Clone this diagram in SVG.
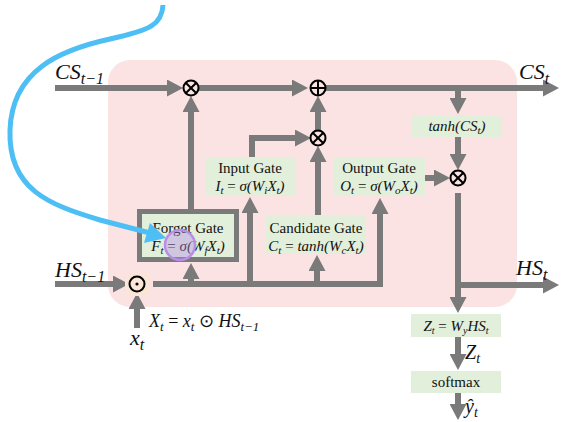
<svg xmlns="http://www.w3.org/2000/svg" width="561" height="422" viewBox="0 0 561 422">
<style>
.ln{fill:none;stroke:#7a7a7a;stroke-width:6;stroke-linejoin:miter}
.ar{marker-end:url(#ah)}
.box{fill:#e2efda}
.t{font-family:"Liberation Serif",serif;font-size:15px;fill:#111;text-anchor:middle}
.m{font-family:"Liberation Serif",serif;font-style:italic;fill:#111}
.mc{font-family:"Liberation Serif",serif;font-style:italic;font-size:15px;fill:#111;text-anchor:middle}
.op{fill:none;stroke:#000;stroke-width:2}
</style>
<defs>
<marker id="ah" viewBox="0 0 16 17" refX="2" refY="8.5" markerWidth="16" markerHeight="17" markerUnits="userSpaceOnUse" orient="auto">
<path d="M0,0 L16,8.5 L0,17 z" fill="#7a7a7a"/>
</marker>
</defs>
<rect id="cell" x="108" y="60" width="409" height="247" rx="22" fill="#fce3e3"/>

<g id="connectors">
<path class="ln ar" d="M55,88 H169"/>
<path class="ln ar" d="M199,88 H294"/>
<path class="ln ar" d="M326,88 H545"/>
<path class="ln ar" d="M458,88 V100"/>
<path class="ln ar" d="M458,137 V156"/>
<path class="ln ar" d="M425,178 H436"/>
<path class="ln ar" d="M458,193 V299"/>
<path class="ln ar" d="M458,285 H545"/>
<path class="ln ar" d="M458,337 V356"/>
<path class="ln ar" d="M458,393 V406"/>
<path class="ln ar" d="M55,284 H115"/>
<path class="ln ar" d="M137,328 V307"/>
<path class="ln ar" d="M153,284 H380 V212"/>
<path class="ln ar" d="M191,284 V277"/>
<path class="ln ar" d="M250,284 V211"/>
<path class="ln ar" d="M317,284 V269"/>
<path class="ln ar" d="M191,209 V110"/>
<path class="ln ar" d="M252,157 V138 H297"/>
<path class="ln ar" d="M318,130 V110"/>
<path class="ln ar" d="M318,215 V160"/>
</g>

<g id="mul1"><circle class="op" cx="191" cy="88" r="7.5"/><path class="op" d="M185.7,82.7 L196.3,93.3 M196.3,82.7 L185.7,93.3"/></g>
<g id="add1"><circle class="op" cx="318" cy="88" r="7.5"/><path class="op" d="M310.5,88 H325.5 M318,80.5 V95.5"/></g>
<g id="mul2"><circle class="op" cx="318" cy="138" r="7.5"/><path class="op" d="M312.7,132.7 L323.3,143.3 M323.3,132.7 L312.7,143.3"/></g>
<g id="mul3"><circle class="op" cx="458" cy="178" r="7.5"/><path class="op" d="M452.7,172.7 L463.3,183.3 M463.3,172.7 L452.7,183.3"/></g>
<g id="had"><rect x="125" y="273" width="24" height="23" fill="#fbe5d6"/><circle class="op" cx="137" cy="284" r="7.5"/><circle cx="137" cy="284" r="1.6" fill="#000"/></g>

<g id="tanh"><rect class="box" x="412" y="115" width="90" height="22"/>
<text class="mc" x="457" y="131">tanh(CS<tspan font-size="11" dy="3">t</tspan><tspan dy="-3">)</tspan></text></g>

<g id="output"><rect class="box" x="334" y="157" width="91" height="39"/>
<text class="t" x="379" y="173">Output Gate</text>
<text class="mc" x="379" y="191">O<tspan font-size="11" dy="3">t</tspan><tspan dy="-3" font-style="normal"> = </tspan>σ(W<tspan font-size="11" dy="3">o</tspan><tspan dy="-3">X</tspan><tspan font-size="11" dy="3">t</tspan><tspan dy="-3">)</tspan></text></g>

<g id="input"><rect class="box" x="206" y="157" width="89" height="39"/>
<text class="t" x="250" y="173">Input Gate</text>
<text class="mc" x="250" y="191">I<tspan font-size="11" dy="3">t</tspan><tspan dy="-3" font-style="normal"> = </tspan>σ(W<tspan font-size="11" dy="3">i</tspan><tspan dy="-3">X</tspan><tspan font-size="11" dy="3">t</tspan><tspan dy="-3">)</tspan></text></g>

<g id="forget"><rect x="139.5" y="211.5" width="97" height="48" fill="#e2efda" stroke="#7a7a7a" stroke-width="5"/>
<text class="t" x="188" y="233">Forget Gate</text>
<text class="mc" x="188" y="251">F<tspan font-size="11" dy="3">t</tspan><tspan dy="-3" font-style="normal"> = </tspan>σ(W<tspan font-size="11" dy="3">f</tspan><tspan dy="-3">X</tspan><tspan font-size="11" dy="3">t</tspan><tspan dy="-3">)</tspan></text></g>

<g id="candidate"><rect class="box" x="266" y="215" width="100" height="39"/>
<text class="t" x="316" y="233">Candidate Gate</text>
<text class="mc" x="316" y="251">C<tspan font-size="11" dy="3">t</tspan><tspan dy="-3" font-style="normal"> = </tspan>tanh(W<tspan font-size="11" dy="3">c</tspan><tspan dy="-3">X</tspan><tspan font-size="11" dy="3">t</tspan><tspan dy="-3">)</tspan></text></g>

<g id="zbox"><rect class="box" x="411" y="314" width="90" height="23"/>
<text class="mc" x="456" y="331" font-size="14">Z<tspan font-size="10" dy="3">t</tspan><tspan dy="-3" font-style="normal"> = </tspan>W<tspan font-size="10" dy="3">y</tspan><tspan dy="-3">HS</tspan><tspan font-size="10" dy="3">t</tspan></text></g>

<g id="softmax"><rect class="box" x="411" y="371" width="90" height="22"/>
<text class="t" x="456" y="387" font-size="16">softmax</text></g>

<g id="labels">
<text class="m" x="55" y="79" font-size="22">CS<tspan font-size="16" dy="5">t−1</tspan></text>
<text class="m" x="519" y="79" font-size="22">CS<tspan font-size="16" dy="5">t</tspan></text>
<text class="m" x="55" y="277" font-size="22">HS<tspan font-size="16" dy="5">t−1</tspan></text>
<text class="m" x="516" y="275" font-size="22">HS<tspan font-size="16" dy="5">t</tspan></text>
<text class="m" x="130" y="345" font-size="22">x<tspan font-size="16" dy="5">t</tspan></text>
<text class="m" x="149" y="327" font-size="18">X<tspan font-size="13" dy="4">t</tspan><tspan dy="-4" font-style="normal"> = </tspan>x<tspan font-size="13" dy="4">t</tspan><tspan dy="-4" font-style="normal"> ⊙ </tspan>HS<tspan font-size="13" dy="4">t−1</tspan></text>
<text class="m" x="465" y="359" font-size="20">Z<tspan font-size="14" dy="4">t</tspan></text>
<text class="m" x="465" y="413" font-size="20">ŷ<tspan font-size="14" dy="4">t</tspan></text>
</g>

<g id="pointer">
<path d="M163,5 C162,25 150,30 110,39 C60,50 12,70 10,130 C8,190 50,205 100,220 L150,233" fill="none" stroke="#4dbff5" stroke-width="5"/>
<path d="M166,238 L150,223 L144,243 z" fill="#4dbff5"/>
<circle cx="180" cy="245" r="15" fill="#b48ce6" fill-opacity="0.4" stroke="#b88ee8" stroke-width="2.5"/>
</g>
</svg>
